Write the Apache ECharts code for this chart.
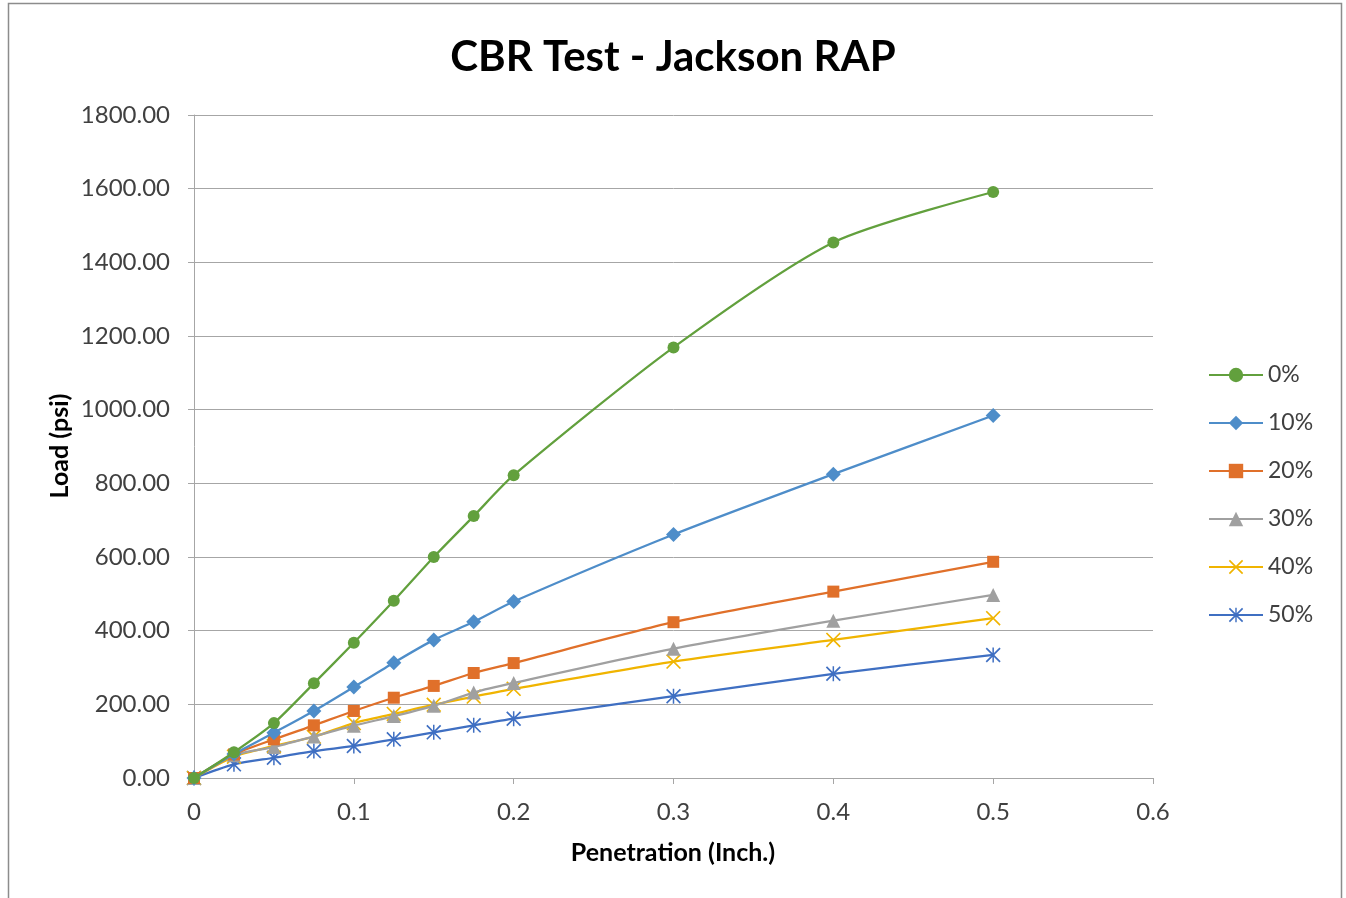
<!DOCTYPE html>
<html>
<head>
<meta charset="utf-8">
<title>CBR Test - Jackson RAP</title>
<script src="https://cdn.jsdelivr.net/npm/echarts@6/dist/echarts.min.js"></script>
<style>
  html, body { margin: 0; padding: 0; background: #ffffff; }
  #chart { width: 1346px; height: 898px; }
</style>
</head>
<body>
<div id="chart"></div>
<script>
// Penetration depths (inch) at which the load was recorded
const penetration = [0, 0.025, 0.05, 0.075, 0.1, 0.125, 0.15, 0.175, 0.2, 0.3, 0.4, 0.5];

// Load (psi) for each RAP content
const load0 = [0, 70, 149, 257, 367, 481, 600, 711, 822, 1169, 1454, 1591];
const load10 = [0, 65, 123, 182, 247, 313, 375, 424, 479, 661, 825, 984];
const load20 = [0, 64, 105, 143, 182, 218, 250, 285, 312, 423, 506, 587];
const load30 = [0, 62, 84, 113, 142, 168, 196, 232, 258, 351, 427, 497];
const load40 = [0, 58, 87, 112, 149, 174, 199, 221, 242, 316, 375, 434];
const load50 = [0, 37, 55, 73, 87, 105, 124, 143, 161, 222, 283, 334];

const seriesNames = ['0%', '10%', '20%', '30%', '40%', '50%'];
const xTicks = ['0', '0.1', '0.2', '0.3', '0.4', '0.5', '0.6'];

const FONT = 'Lato, "Open Sans", sans-serif';
const GRID_COLOR = '#a6a6a6';

// Marker shapes: thin "x" cross and an asterisk
const crossPath = 'path://M0,0.8L0.8,0L10,9.2L9.2,10Z M9.2,0L10,0.8L0.8,10L0,9.2Z';
const starPath = 'path://M0,0.8L0.8,0L10,9.2L9.2,10Z M9.2,0L10,0.8L0.8,10L0,9.2Z M4.5,0L5.5,0L5.5,10L4.5,10Z';

const styles = [
  { color: '#62a03d', symbol: 'circle', size: 12 },
  { color: '#4e8dc9', symbol: 'diamond', size: 15 },
  { color: '#e0702a', symbol: 'rect', size: 12 },
  { color: '#a0a0a0', symbol: 'triangle', size: 14 },
  { color: '#f0b400', symbol: crossPath, size: 15 },
  { color: '#3f6fc2', symbol: starPath, size: 15 }
];

const loads = [load0, load10, load20, load30, load40, load50];

const series = loads.map((vals, i) => ({
  name: seriesNames[i],
  type: 'line',
  smooth: 0.25,
  data: penetration.map((p, k) => [p, vals[k]]),
  symbol: styles[i].symbol,
  symbolSize: styles[i].size,
  lineStyle: { color: styles[i].color, width: 2.25 },
  itemStyle: { color: styles[i].color },
  z: 10 - i
}));

const chart = echarts.init(document.getElementById('chart'), null, { renderer: 'canvas' });

chart.setOption({
  animation: false,
  backgroundColor: '#ffffff',
  title: {
    text: 'CBR Test - Jackson RAP',
    left: 'center',
    top: 31,
    textStyle: { fontFamily: FONT, fontSize: 42, fontWeight: 'bold', color: '#000000' }
  },
  grid: { left: 194, right: 193, top: 115, bottom: 120 },
  legend: {
    orient: 'vertical',
    left: 1203,
    top: 357,
    itemWidth: 54,
    itemHeight: 18,
    itemGap: 22,
    textStyle: { fontFamily: FONT, fontSize: 23, color: '#404040', lineHeight: 26 },
    data: seriesNames
  },
  xAxis: {
    type: 'value',
    min: 0,
    max: 0.6,
    interval: 0.1,
    axisLine: { show: true, lineStyle: { color: GRID_COLOR, width: 1 } },
    axisTick: { show: true, inside: false, length: 6, lineStyle: { color: GRID_COLOR } },
    splitLine: { show: false },
    axisLabel: {
      margin: 22,
      fontFamily: FONT,
      fontSize: 24,
      color: '#404040',
      formatter: (v) => xTicks[Math.round(v * 10)]
    }
  },
  yAxis: {
    type: 'value',
    min: 0,
    max: 1800,
    interval: 200,
    axisLine: { show: true, lineStyle: { color: GRID_COLOR, width: 1 } },
    axisTick: { show: true, inside: false, length: 6, lineStyle: { color: GRID_COLOR } },
    splitLine: { show: true, lineStyle: { color: GRID_COLOR, width: 1 } },
    axisLabel: {
      margin: 24,
      fontFamily: FONT,
      fontSize: 24,
      color: '#404040',
      formatter: (v) => v.toFixed(2)
    }
  },
  graphic: [
    {
      type: 'rect',
      shape: { x: 8.5, y: 3.5, width: 1333, height: 910 },
      style: { fill: 'none', stroke: '#8c8c8c', lineWidth: 1.5 },
      silent: true,
      z: -1
    },
    {
      type: 'text',
      x: 673,
      y: 853,
      style: {
        text: 'Penetration (Inch.)',
        fontFamily: FONT,
        fontSize: 25,
        fontWeight: 'bold',
        fill: '#000000',
        align: 'center',
        verticalAlign: 'middle'
      }
    },
    {
      type: 'text',
      x: 60,
      y: 446,
      rotation: Math.PI / 2,
      style: {
        text: 'Load (psi)',
        fontFamily: FONT,
        fontSize: 25,
        fontWeight: 'bold',
        fill: '#000000',
        align: 'center',
        verticalAlign: 'middle'
      }
    }
  ],
  series: series
});
</script>
</body>
</html>
